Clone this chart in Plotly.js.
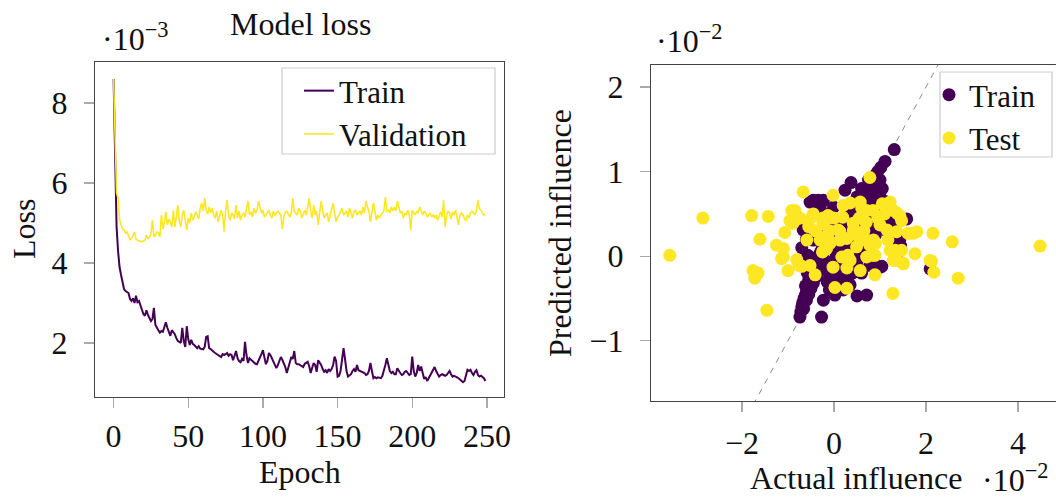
<!DOCTYPE html>
<html>
<head>
<meta charset="utf-8">
<script src="https://cdn.plot.ly/plotly-3.0.1.min.js"></script>
<style>
  html, body { margin: 0; padding: 0; background: #fff; }
  #chart { width: 1056px; height: 497px; }
</style>
</head>
<body>
<div id="chart"></div>
<script>
// Loss per epoch, in units of 1e-3
const trainLoss = [
  8.6, 6.2, 4.9, 4.3, 3.9, 3.7, 3.5, 3.35, 3.3, 3.28,
  3.25, 3.1, 3.05, 3.12, 3.0, 3.18, 3.02, 3.05, 2.95, 2.85,
  2.72, 2.68, 2.82, 2.7, 2.62, 2.55, 2.6, 2.88, 2.45, 2.4,
  2.32, 2.26, 2.3, 2.28, 2.42, 2.52, 2.38, 2.3, 2.18, 2.32,
  2.28, 2.22, 2.12, 2.05, 2.03, 2.0, 2.38, 2.05, 1.9, 2.42,
  2.1, 1.95, 2.08, 1.98, 1.95, 1.9, 1.87, 1.92, 1.86, 1.85,
  1.84, 1.9, 2.15, 2.17, 1.87, 1.85, 1.8, 1.78, 1.75, 1.72,
  1.7, 1.68, 1.65, 1.72, 1.7, 1.72, 1.75, 1.68, 1.72, 1.7,
  1.57, 1.68, 1.8, 1.62, 1.55, 1.52, 1.6, 1.55, 2.03, 1.7,
  1.5, 1.62, 1.58, 1.55, 1.5, 1.48, 1.47, 1.55, 1.6, 1.72,
  1.82, 1.6, 1.47, 1.55, 1.75, 1.7, 1.62, 1.55, 1.45, 1.37,
  1.45, 1.55, 1.65, 1.58, 1.5, 1.4, 1.25, 1.4, 1.55, 1.65,
  1.6, 1.8, 1.5, 1.47, 1.47, 1.45, 1.42, 1.4, 1.48, 1.5,
  1.53, 1.42, 1.25, 1.38, 1.5, 1.45, 1.28, 1.57, 1.52, 1.45,
  1.35, 1.28, 1.32, 1.25, 1.35, 1.3, 1.35, 1.45, 1.66, 1.55,
  1.16, 1.18, 1.3, 1.62, 1.87, 1.6, 1.3, 1.16, 1.2, 1.22,
  1.3, 1.35, 1.28, 1.45, 1.32, 1.3, 1.28, 1.28, 1.25, 1.2,
  1.22, 1.3, 1.5, 1.3, 1.12, 1.15, 1.12, 1.14, 1.12, 1.12,
  1.18, 1.3, 1.45, 1.62, 1.45, 1.3, 1.25, 1.28, 1.22, 1.22,
  1.37, 1.3, 1.25, 1.2, 1.22, 1.28, 1.3, 1.25, 1.2, 1.22,
  1.66, 1.3, 1.16, 1.25, 1.45, 1.3, 1.41, 1.25, 1.1, 1.15,
  1.05, 1.12, 1.2, 1.25, 1.35, 1.4, 1.3, 1.22, 1.16, 1.2,
  1.22, 1.2, 1.18, 1.2, 1.25, 1.3, 1.22, 1.16, 1.18, 1.15,
  1.14, 1.12, 1.08, 1.05, 1.02, 1.05, 1.2, 1.33, 1.3, 1.33,
  1.25, 1.2, 1.28, 1.32, 1.2, 1.16, 1.18, 1.15, 1.12, 1.05
];
const validationLoss = [
  8.6, 7.0, 5.75, 5.62, 5.1, 4.95, 4.85, 4.82, 4.75, 4.78,
  4.65, 4.58, 4.62, 4.68, 4.78, 4.6, 4.57, 4.55, 4.55, 4.53,
  4.55, 4.57, 4.7, 4.6, 4.65, 4.72, 5.07, 4.65, 4.7, 4.78,
  4.75, 4.65, 5.2, 4.85, 5.0, 5.28, 4.95, 5.1, 5.03, 4.9,
  5.32, 4.9, 5.15, 5.45, 5.05, 4.9, 5.2, 5.32, 5.05, 4.82,
  5.12, 5.0, 5.25, 5.07, 5.15, 5.28, 5.2, 5.1, 5.37, 5.5,
  5.3, 5.62, 5.32, 5.22, 5.4, 5.25, 5.37, 5.2, 5.12, 5.3,
  5.03, 5.15, 5.32, 5.22, 4.78, 5.3, 5.57, 5.2, 5.07, 5.25,
  5.2, 5.1, 5.45, 5.12, 5.3, 5.07, 5.2, 5.25, 5.15, 5.35,
  5.55, 5.2, 5.28, 5.15, 5.37, 5.25, 5.3, 5.55, 5.4, 5.25,
  5.32, 5.15, 5.2, 5.25, 5.32, 5.2, 5.12, 5.3, 5.18, 5.25,
  5.3, 5.25, 5.2, 4.85, 5.15, 5.28, 5.3, 5.22, 5.15, 5.25,
  5.62, 5.3, 5.25, 5.2, 5.37, 5.3, 5.12, 5.25, 5.32, 5.2,
  5.4, 5.62, 5.3, 5.12, 5.45, 5.2, 5.3, 4.95, 5.25, 5.55,
  5.3, 5.12, 5.2, 5.25, 5.03, 5.2, 5.3, 5.5, 5.25, 5.03,
  5.15, 5.2, 5.3, 5.37, 5.2, 5.25, 5.3, 5.15, 5.37, 5.25,
  5.12, 5.3, 5.32, 5.2, 5.25, 5.3, 5.2, 5.4, 5.25, 5.55,
  5.4, 5.3, 5.03, 5.25, 5.5, 5.3, 5.07, 5.2, 5.12, 5.2,
  5.25, 5.3, 5.65, 5.3, 5.32, 5.25, 5.4, 5.3, 5.4, 5.3,
  5.55, 5.35, 5.25, 5.3, 5.12, 5.25, 5.2, 5.32, 5.2, 4.82,
  5.32, 5.25, 5.2, 5.3, 5.25, 5.4, 5.3, 5.2, 5.3, 5.25,
  5.15, 5.2, 5.25, 5.15, 5.2, 5.12, 5.2, 5.07, 5.2, 5.28,
  5.15, 5.57, 4.9, 5.2, 5.3, 5.25, 5.1, 5.28, 5.2, 5.32,
  5.15, 4.95, 5.2, 5.25, 5.2, 5.1, 5.07, 5.2, 5.12, 5.25,
  5.3, 5.25, 5.2, 5.3, 5.57, 5.35, 5.32, 5.25, 5.2, 5.22
];
const epochs = trainLoss.map((_, i) => i);

// Influence of each sample, in units of 1e-2
const trainActual = [
  -0.74, -0.72, -0.70, -0.68, -0.65, -0.62, -0.60, -0.57, -0.55, -0.52,
  -0.50, -0.48, -0.45, -0.42, -0.40, -0.38, -0.35, -0.32, -0.30, -0.27,
  -0.25, -0.66, -0.60, -0.55, -0.50, -0.45, -0.40, -0.35, -0.30, -0.25,
  -0.20, -0.62, -0.55, -0.50, -0.42, -0.58, -0.27, -0.23, 0.02, 0.35,
  0.50, 0.71, -0.15, -0.10, 0.00, 0.10, 0.20, 0.30, -0.05, 0.05,
  0.15, 0.25, 0.35, 0.45, 0.55, 0.65, 0.75, 0.85, 0.95, 1.05,
  1.10, 1.00, 0.90, 0.85, 0.95, 1.00, 0.90, 0.80, 0.70, 0.60,
  0.50, 0.40, 0.30, 0.20, 0.10, 0.00, -0.10, -0.20, -0.15, -0.05,
  0.05, 0.15, 0.25, 0.35, 0.45, 0.55, 0.65, 0.75, 0.80, 0.88,
  0.95, 1.11, 1.31, 0.37, 0.24, -0.52, -0.45, -0.34, -0.23, -0.40,
  -0.30, -0.01, 0.42, -0.10, -0.35, -0.20, 1.58, 1.43, 1.45, 1.30,
  1.20, 1.15, 1.25, 1.35, 1.00, 0.90, 0.78, 1.04, 2.09, -0.67,
  -0.45, -0.52, -0.57, -0.70, -0.60, 0.10, 0.20, -0.10, 0.30, 0.40,
  0.60, 0.50, 0.25, 0.60, 0.70, 0.45, 0.80, 0.90, 1.00, 1.10,
  1.20, 1.05, 0.95, 0.75, 0.70, 0.60, 0.50, 1.02
];
const trainPredicted = [
  -0.72, -0.66, -0.60, -0.55, -0.50, -0.46, -0.42, -0.38, -0.33, -0.30,
  -0.26, -0.22, -0.18, -0.14, -0.10, -0.06, -0.03, 0.00, 0.04, 0.07,
  0.10, -0.62, -0.52, -0.45, -0.38, -0.32, -0.25, -0.20, -0.15, -0.10,
  -0.05, -0.35, -0.28, -0.20, -0.05, -0.20, -0.72, -0.52, -0.46, -0.34,
  -0.47, -0.46, -0.30, -0.20, -0.25, -0.15, -0.25, -0.10, -0.10, 0.00,
  0.05, 0.10, 0.15, 0.20, 0.25, 0.30, 0.35, 0.40, 0.50, 0.55,
  0.65, 0.75, 0.70, 0.80, 0.85, 0.90, 0.60, 0.55, 0.50, 0.45,
  0.40, 0.35, 0.30, 0.25, 0.20, 0.15, 0.10, 0.15, 0.25, 0.30,
  0.35, 0.40, 0.45, 0.50, 0.55, 0.60, 0.65, 0.70, 0.85, 0.95,
  1.00, 1.12, 1.26, 0.87, 0.78, 0.64, 0.66, 0.66, 0.66, 0.60,
  0.58, 0.58, 0.54, 0.50, 0.50, 0.45, 0.44, 0.19, 0.12, 0.35,
  0.45, 0.30, 0.20, 0.00, -0.13, -0.10, -0.11, -0.12, -0.15, 0.31,
  0.19, -0.01, 0.01, 0.10, 0.20, -0.35, -0.40, -0.40, -0.30, -0.20,
  -0.20, -0.10, -0.05, 0.00, 0.10, 0.00, 0.20, 0.25, 0.35, 0.45,
  0.60, 0.80, 0.70, 0.90, 0.75, 0.80, 0.70, 1.05
];
const testActual = [
  -3.57, -2.85, -1.79, -1.43, -0.67, -0.02, 0.78, -0.85, 0.35, 0.57,
  1.22, 1.37, 1.43, 1.47, 2.15, 2.57, 4.48, -1.61, -1.25, -1.10,
  -1.07, -0.89, -0.96, -0.92, -0.74, -0.48, -0.45, -0.59, -0.24, -0.24,
  -0.13, -0.24, -0.16, -0.09, 0.09, 0.13, 0.13, 0.19, 0.42, 0.42,
  0.57, 0.71, 0.86, 0.60, 0.71, 0.85, 1.00, 1.15, 1.17, 1.29,
  1.36, 1.61, 1.72, 1.80, 1.33, 1.47, 1.36, 1.50, 1.76, 2.09,
  2.12, 2.17, 2.70, 1.22, 0.89, 0.85, 0.71, 0.49, 0.35, 0.17,
  0.30, -0.30, -0.13, -0.10, 0.28, -1.10, -1.14, -0.81, -1.76, -1.65,
  -1.72, -1.46, -1.00, -0.76, -0.70, -0.52, -0.41, -0.02, 0.02, 0.28,
  0.28, 0.57, 0.78, 0.90, 0.89, 1.28, 1.29, 1.51, 0.55, 0.70,
  0.95, 1.10, 0.65, 0.50, 0.00, -0.40, -0.25, 1.05, 0.20, -0.55
];
const testPredicted = [
  0.01, 0.45, 0.48, 0.47, 0.76, 0.72, 0.93, 0.54, 0.63, 0.64,
  0.64, 0.51, 0.48, 0.42, 0.27, 0.17, 0.12, 0.20, 0.13, 0.09,
  0.28, 0.39, 0.42, 0.54, 0.45, 0.46, 0.50, 0.19, 0.39, 0.45,
  0.48, 0.22, 0.09, 0.15, 0.31, 0.19, 0.29, 0.46, 0.39, 0.31,
  0.19, 0.19, 0.19, 0.57, 0.54, 0.54, 0.37, 0.31, 0.19, 0.54,
  0.29, 0.27, 0.27, 0.29, 0.07, 0.07, -0.05, -0.08, 0.03, -0.05,
  -0.06, -0.19, -0.26, 0.07, 0.01, 0.01, -0.01, 0.11, -0.05, -0.01,
  0.01, 0.19, 0.21, 0.30, 0.21, -0.01, -0.03, -0.04, -0.17, -0.20,
  -0.26, -0.64, -0.17, -0.11, -0.12, -0.11, -0.22, -0.13, -0.37, -0.14,
  -0.38, -0.17, 0.13, 0.15, -0.22, -0.44, -0.05, -0.09, 0.45, 0.40,
  0.45, 0.50, 0.30, 0.25, 0.45, 0.30, 0.05, 0.62, 0.60, 0.35
];
// Ends of the y = x reference line
const identityLine = [-4, 5];

const lossTicks = [2, 4, 6, 8];
const epochTicks = [0, 50, 100, 150, 200, 250];
const actualTicks = [-2, 0, 2, 4];
const predictedTicks = [-1, 0, 1, 2];

const PURPLE = '#440154';
const YELLOW = '#fde725';
const FONT = 'Liberation Serif, Times New Roman, serif';
const FS = 32;
const LEGEND_FS = 31;

const traces = [
  { x: epochs, y: trainLoss, name: 'Train', type: 'scatter', mode: 'lines',
    line: { color: PURPLE, width: 2 }, xaxis: 'x', yaxis: 'y', legend: 'legend' },
  { x: epochs, y: validationLoss, name: 'Validation', type: 'scatter', mode: 'lines',
    line: { color: YELLOW, width: 1.6 }, xaxis: 'x', yaxis: 'y', legend: 'legend' },
  { x: identityLine, y: identityLine, type: 'scatter', mode: 'lines', showlegend: false,
    line: { color: '#8c8c8c', width: 1, dash: '6px,6px' }, xaxis: 'x2', yaxis: 'y2', hoverinfo: 'skip' },
  { x: trainActual, y: trainPredicted, name: 'Train', type: 'scatter', mode: 'markers',
    marker: { color: PURPLE, size: 13 }, xaxis: 'x2', yaxis: 'y2', legend: 'legend2' },
  { x: testActual, y: testPredicted, name: 'Test', type: 'scatter', mode: 'markers',
    marker: { color: YELLOW, size: 13 }, xaxis: 'x2', yaxis: 'y2', legend: 'legend2' }
];

const axisCommon = {
  showgrid: false, zeroline: false, showline: true, linecolor: '#444', linewidth: 1.2,
  ticks: 'outside', ticklen: 10, tickcolor: '#aaa', tickwidth: 1.2,
  tickfont: { family: FONT, size: FS, color: '#111' }, automargin: false
};

const W = 1056, H = 497;
const px = v => v / W;
const py = v => 1 - v / H;

// Legend frames, drawn as boxes behind the legend entries
const legendBox = (x0, y0, x1, y1) => ({
  type: 'rect', xref: 'paper', yref: 'paper', layer: 'above',
  x0: px(x0), x1: px(x1), y0: py(y1), y1: py(y0),
  fillcolor: '#fff', line: { color: '#cccccc', width: 1.2 }
});

const legendStyle = {
  xanchor: 'left', yanchor: 'top', bgcolor: 'rgba(0,0,0,0)', borderwidth: 0,
  font: { family: FONT, size: LEGEND_FS, color: '#111' }, tracegroupgap: 0
};

const layout = {
  width: W, height: H,
  margin: { l: 0, r: 0, t: 0, b: 0 },
  paper_bgcolor: '#fff', plot_bgcolor: '#fff',
  font: { family: FONT, size: FS, color: '#111' },
  xaxis: Object.assign({}, axisCommon, {
    domain: [px(95), px(504)], range: [-12.45, 261.45],
    tickvals: epochTicks, mirror: true, anchor: 'y', ticklabelstandoff: 0
  }),
  yaxis: Object.assign({}, axisCommon, {
    domain: [py(397), py(62)], range: [0.65, 9.025],
    tickvals: lossTicks, mirror: true, anchor: 'x', ticklabelstandoff: 10
  }),
  xaxis2: Object.assign({}, axisCommon, {
    domain: [px(651), 1], range: [-3.978, 4.826],
    tickvals: actualTicks, mirror: true, anchor: 'y2', ticklabelstandoff: 3
  }),
  yaxis2: Object.assign({}, axisCommon, {
    domain: [py(401), py(65)], range: [-1.712, 2.26],
    tickvals: predictedTicks, mirror: false, anchor: 'x2', ticklabelstandoff: 10
  }),
  legend: Object.assign({}, legendStyle, { x: px(299), y: py(64) }),
  legend2: Object.assign({}, legendStyle, { x: px(929), y: py(68), itemwidth: 30 }),
  shapes: [legendBox(282, 68, 495, 154), legendBox(940, 72, 1052, 157)],
  annotations: [
    { text: 'Model loss', x: px(300), y: py(24), xref: 'paper', yref: 'paper',
      xanchor: 'center', yanchor: 'middle', showarrow: false },
    { text: '·10<sup>−3</sup>', x: px(100), y: py(37), xref: 'paper', yref: 'paper',
      xanchor: 'left', yanchor: 'middle', showarrow: false },
    { text: 'Epoch', x: px(300), y: py(472), xref: 'paper', yref: 'paper',
      xanchor: 'center', yanchor: 'middle', showarrow: false },
    { text: 'Loss', x: px(24), y: py(229), xref: 'paper', yref: 'paper', textangle: -90,
      xanchor: 'center', yanchor: 'middle', showarrow: false },
    { text: 'Predicted influence', x: px(560), y: py(233), xref: 'paper', yref: 'paper', textangle: -90,
      xanchor: 'center', yanchor: 'middle', showarrow: false },
    { text: 'Actual influence', x: px(856), y: py(478), xref: 'paper', yref: 'paper',
      xanchor: 'center', yanchor: 'middle', showarrow: false },
    { text: '·10<sup>−2</sup>', x: px(654), y: py(39), xref: 'paper', yref: 'paper',
      xanchor: 'left', yanchor: 'middle', showarrow: false },
    { text: '·10<sup>−2</sup>', x: px(980), y: py(478), xref: 'paper', yref: 'paper',
      xanchor: 'left', yanchor: 'middle', showarrow: false }
  ],
  showlegend: true
};

Plotly.newPlot('chart', traces, layout, { staticPlot: true, displayModeBar: false });
</script>
</body>
</html>
